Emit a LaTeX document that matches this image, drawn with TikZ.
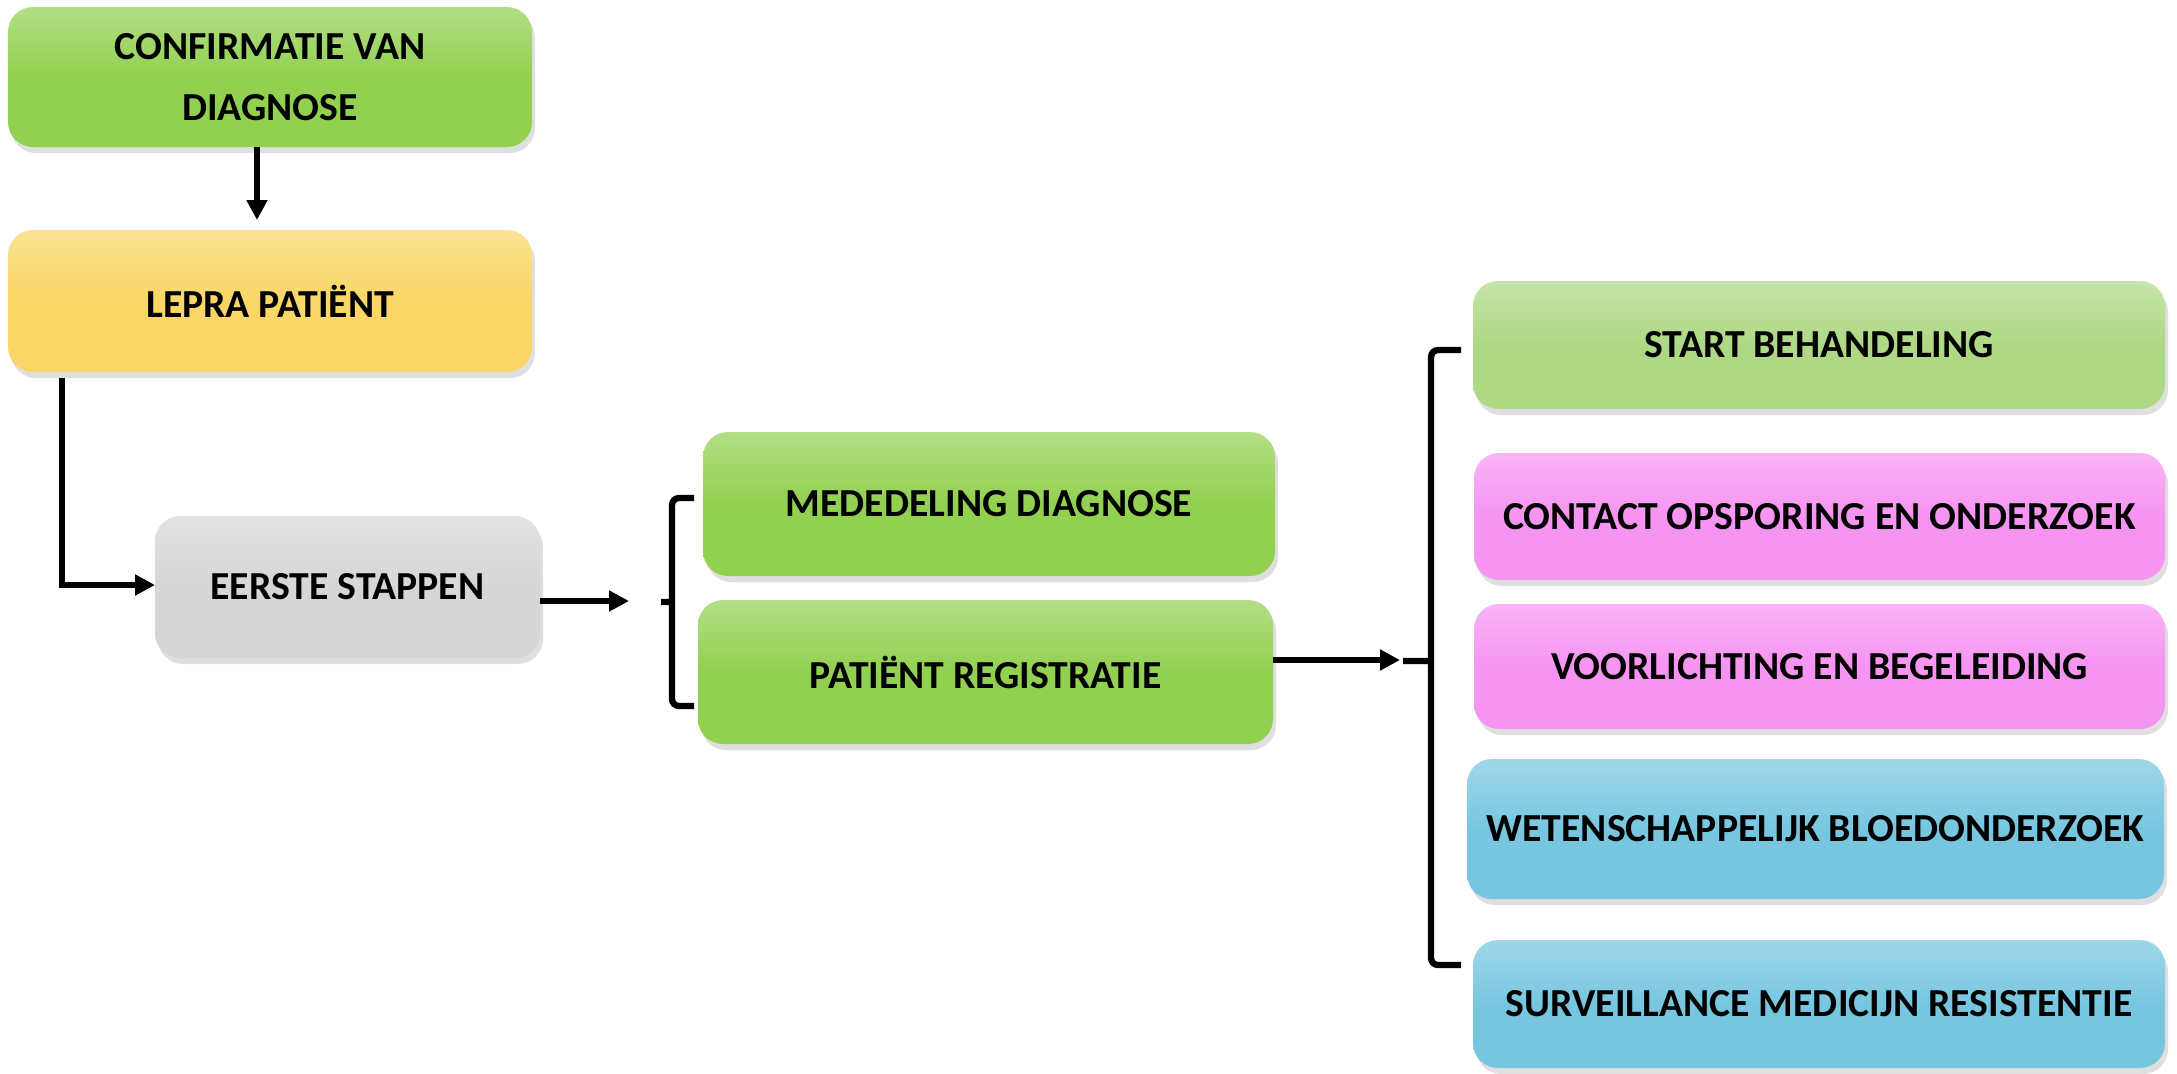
\documentclass[tikz,border=0pt]{standalone}
\usepackage{fontspec}
\setmainfont{Carlito}
\usetikzlibrary{arrows.meta,shadows}
\definecolor{groen}{HTML}{92D050}
\definecolor{lichtgroen}{HTML}{AED884}
\definecolor{geel}{HTML}{FAD666}
\definecolor{grijs}{HTML}{D6D6D6}
\definecolor{roze}{HTML}{F694F2}
\definecolor{blauw}{HTML}{77C6E0}
\begin{document}
\begin{tikzpicture}[inner sep=2pt,outer sep=0pt,
		blok/.style={rounded corners=0.25cm,minimum height=1.42cm,align=center,
			font=\fontsize{11.3}{17.4}\selectfont\bfseries,
			drop shadow={shadow xshift=0.03cm,shadow yshift=-0.06cm,opacity=0.25}},
		kleur/.style={top color=#1!70!white,bottom color=#1,middle color=#1},
		pijl/.style={line width=1.8pt,-{Triangle[length=2mm,width=2mm]}},
		haak/.style={line width=1.8pt,rounded corners=2pt}]
			\useasboundingbox (0,0) rectangle (21.77,-10.73) ;
			\node[blok,kleur=groen,minimum width=5.24cm,minimum height=1.4cm] (conf) at (2.70,-0.77) {CONFIRMATIE VAN\\DIAGNOSE} ;
			\node[blok,kleur=geel,minimum width=5.24cm] (lepra) at (2.70,-3.01) {LEPRA PATIËNT} ;
			\node[blok,kleur=grijs,minimum width=3.85cm] (eerste) at (3.475,-5.87) {EERSTE STAPPEN} ;
			\node[blok,kleur=groen,minimum width=5.72cm,minimum height=1.44cm] (mede) at (9.89,-5.04) {MEDEDELING DIAGNOSE} ;
			\node[blok,kleur=groen,minimum width=5.75cm,minimum height=1.44cm] (reg) at (9.855,-6.72) {PATIËNT REGISTRATIE} ;
			\node[blok,kleur=lichtgroen,minimum width=6.92cm,minimum height=1.28cm] (start) at (18.19,-3.45) {START BEHANDELING} ;
			\node[blok,kleur=roze,minimum width=6.91cm,minimum height=1.27cm] (contact) at (18.195,-5.165) {CONTACT OPSPORING EN ONDERZOEK} ;
			\node[blok,kleur=roze,minimum width=6.91cm,minimum height=1.25cm] (voor) at (18.195,-6.665) {VOORLICHTING EN BEGELEIDING} ;
			\node[blok,kleur=blauw,minimum width=6.97cm,minimum height=1.40cm] (weten) at (18.155,-8.29) {WETENSCHAPPELIJK BLOEDONDERZOEK} ;
			\node[blok,kleur=blauw,minimum width=6.92cm,minimum height=1.28cm] (surv) at (18.19,-10.04) {SURVEILLANCE MEDICIJN RESISTENTIE} ;
			\coordinate (in1) at (6.29,-6.01) ;
			\coordinate (in2) at (14.00,-6.60) ;
			\draw[pijl,shorten >=0.1cm] ([xshift=-0.13cm]conf.south) -- ([xshift=-0.13cm]lepra.north) ;
			\draw[pijl] ([xshift=0.54cm,yshift=-0.06cm]lepra.south west) |- ([yshift=0.02cm]eerste.west) ;
			\draw[pijl] (eerste.east |- in1) -- (in1) ;
			\draw[pijl] (reg.east |- in2) -- (in2) ;
			\draw[haak] (6.94,-4.98) -- (6.72,-4.98) -- (6.72,-7.06) -- (6.94,-7.06) (6.72,-6.02) -- (6.61,-6.02) ;
			\draw[haak] (14.61,-3.50) -- (14.31,-3.50) -- (14.31,-9.65) -- (14.61,-9.65) (14.31,-6.61) -- (14.03,-6.61) ;
		\end{tikzpicture}
\end{document}
